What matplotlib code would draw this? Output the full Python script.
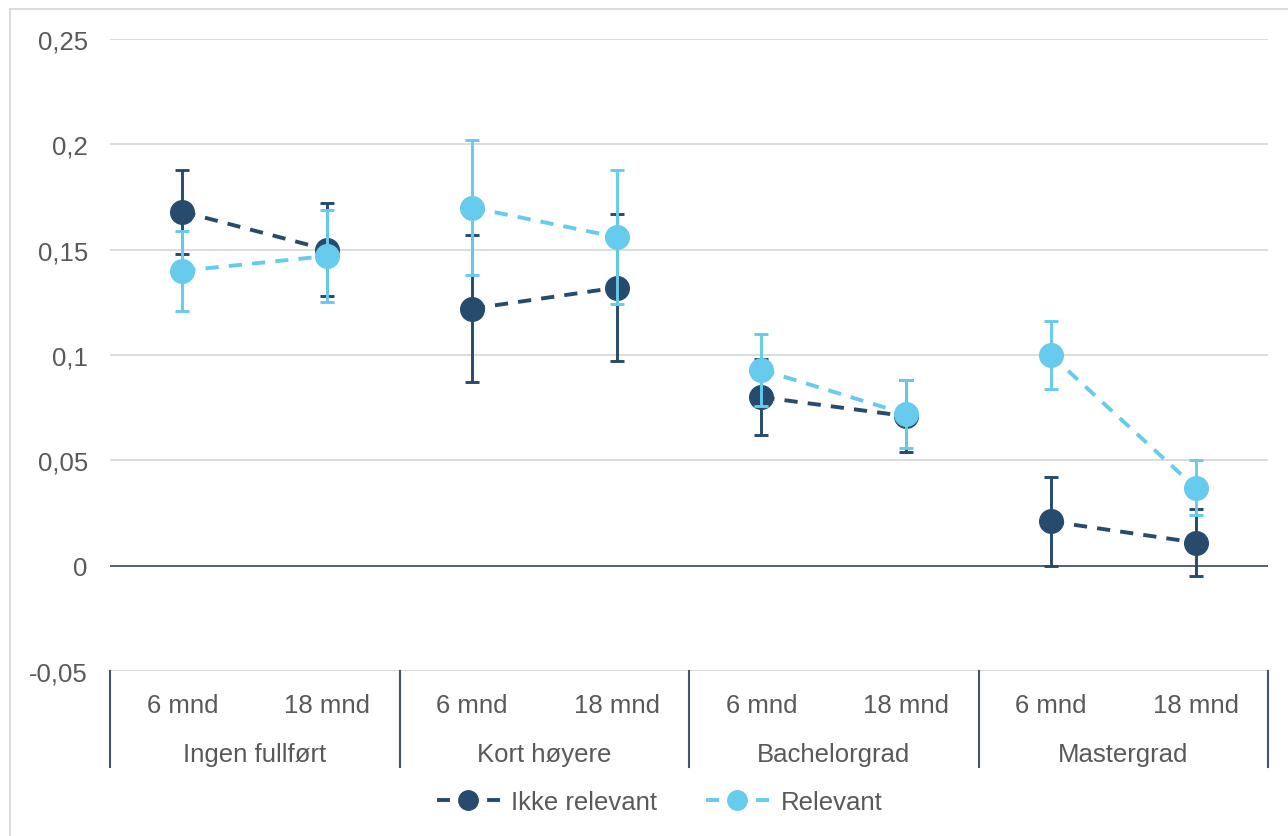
import numpy as np
import matplotlib
matplotlib.use("Agg")
import matplotlib.pyplot as plt
from matplotlib.lines import Line2D

plt.rcParams['font.family'] = ['Liberation Sans', 'DejaVu Sans']

grupper = ['Ingen fullført', 'Kort høyere', 'Bachelorgrad', 'Mastergrad']
perioder = ['6 mnd', '18 mnd']

# Ikke relevant: verdi, nedre, øvre
ikke = [0.168, 0.150, 0.122, 0.132, 0.080, 0.071, 0.021, 0.011]
ikke_lo = [0.148, 0.128, 0.087, 0.097, 0.062, 0.054, 0.000, -0.005]
ikke_hi = [0.188, 0.172, 0.157, 0.167, 0.098, 0.088, 0.042, 0.027]

# Relevant
rel = [0.140, 0.147, 0.170, 0.156, 0.093, 0.072, 0.100, 0.037]
rel_lo = [0.121, 0.125, 0.138, 0.124, 0.076, 0.056, 0.084, 0.024]
rel_hi = [0.159, 0.169, 0.202, 0.188, 0.110, 0.088, 0.116, 0.050]

mork = '#264b6d'
lys = '#66cbec'
tekst = '#595959'
skille = '#44546a'
fs = 18.5

fig = plt.figure(figsize=(12.88, 8.37), dpi=100)
ax = fig.add_axes([0.0854, 0.1971, 0.8991, 0.7551])

x = np.arange(8)


def tegn(v, lo, hi, farge, z):
    v = np.array(v)
    err = [v - np.array(lo), np.array(hi) - v]
    ax.errorbar(x, v, yerr=err, fmt='none', ecolor=farge, elinewidth=2.1,
                capsize=4.8, capthick=2.1, zorder=z)
    for g in range(4):
        ax.plot(x[2*g:2*g+2], v[2*g:2*g+2], color=farge, lw=2.8,
                dashes=(3.4, 2.6), zorder=z)
    ax.plot(x, v, 'o', color=farge, markersize=17, zorder=z + 0.5)


tegn(ikke, ikke_lo, ikke_hi, mork, 3)
tegn(rel, rel_lo, rel_hi, lys, 4)

ax.set_xlim(-0.5, 7.5)
ax.set_ylim(-0.05, 0.25)
yt = [-0.05, 0, 0.05, 0.1, 0.15, 0.2, 0.25]
ax.set_yticks(yt)
ax.set_yticklabels(['-0,05', '0', '0,05', '0,1', '0,15', '0,2', '0,25'])
ax.tick_params(axis='y', length=0, labelsize=fs, labelcolor=tekst, pad=16)
ax.set_xticks([])
for s in ax.spines.values():
    s.set_visible(False)
for y in yt:
    if y == 0:
        ax.axhline(0, color=skille, lw=1.3, zorder=1)
    else:
        ax.axhline(y, color='#d9d9d9', lw=1.3, zorder=0)

# kategoriakse
trans = ax.get_xaxis_transform()
for i in range(8):
    ax.text(x[i], -0.053, perioder[i % 2], transform=trans, ha='center',
            va='center', fontsize=fs, color=tekst, clip_on=False)
for g in range(4):
    ax.text(2*g + 0.5, -0.131, grupper[g], transform=trans, ha='center',
            va='center', fontsize=fs, color=tekst, clip_on=False)
for b in np.arange(-0.5, 8, 2):
    ax.add_line(Line2D([b, b], [0, -0.152], transform=trans, color=skille,
                       lw=1.5, clip_on=False))

# tegnforklaring
h1 = Line2D([], [], color=mork, lw=2.8, dashes=(3.34, 3.1), marker='o',
            markersize=14)
h2 = Line2D([], [], color=lys, lw=2.8, dashes=(3.34, 3.1), marker='o',
            markersize=14)
fig.legend([h1, h2], ['Ikke relevant', 'Relevant'], loc='center',
           bbox_to_anchor=(0.512, 0.0406), ncol=2, frameon=False, fontsize=fs,
           labelcolor=tekst, handlelength=2.45, handletextpad=0.45,
           columnspacing=1.9)

# ramme
fig.add_artist(Line2D([10/1288, 10/1288], [0, 1 - 10/837],
                      transform=fig.transFigure, color='#d9d9d9', lw=1.3))
fig.add_artist(Line2D([10/1288, 1], [1 - 10/837, 1 - 10/837],
                      transform=fig.transFigure, color='#d9d9d9', lw=1.3))

fig.savefig('out.png', dpi=100, facecolor='white')
